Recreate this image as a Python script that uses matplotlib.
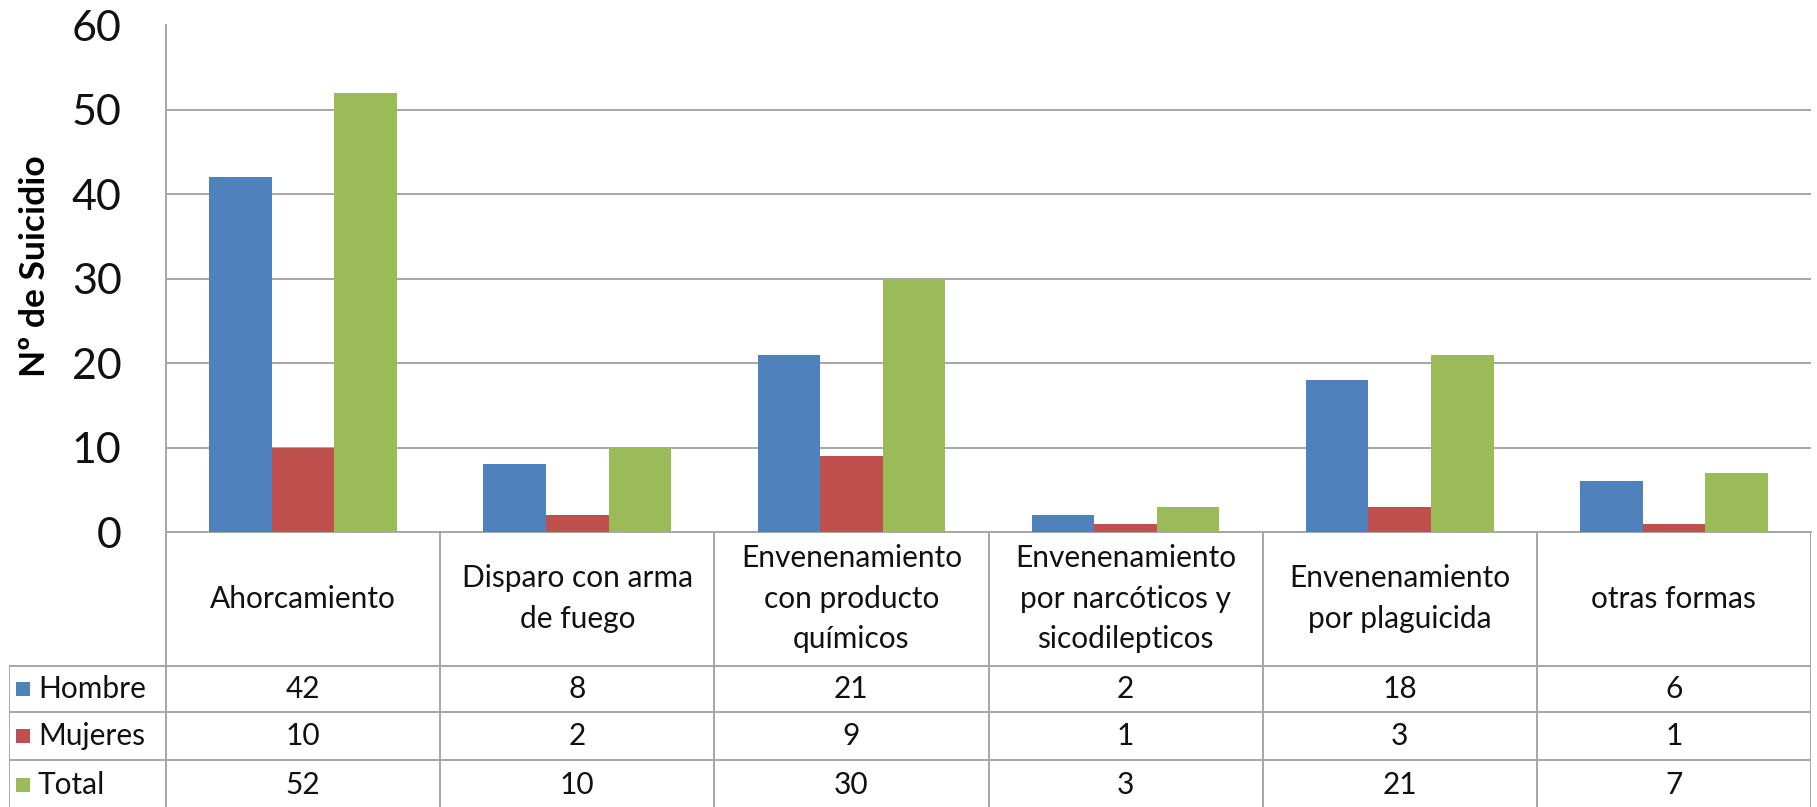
import matplotlib
matplotlib.use("Agg")
import matplotlib.pyplot as plt
import numpy as np

categories = [
    "Ahorcamiento",
    "Disparo con arma\nde fuego",
    "Envenenamiento\ncon producto\nquímicos",
    "Envenenamiento\npor narcóticos y\nsicodilepticos",
    "Envenenamiento\npor plaguicida",
    "otras formas",
]
series_names = ["Hombre", "Mujeres", "Total"]
hombre = [42, 8, 21, 2, 18, 6]
mujeres = [10, 2, 9, 1, 3, 1]
total = [52, 10, 30, 3, 21, 7]
y_ticks = [0, 10, 20, 30, 40, 50, 60]

colors = ["#4F81BD", "#C0504D", "#9BBB59"]
line_gray = "#a6a6a6"

plt.rcParams["font.family"] = ["Lato", "DejaVu Sans"]

W, H = 1817, 807


def px_rect(left, top, right, bottom):
    return [left / W, 1 - bottom / H, (right - left) / W, (bottom - top) / H]


fig = plt.figure(figsize=(W / 100, H / 100), dpi=100)
fig.patch.set_facecolor("white")

# chart area
plot_l, plot_t, plot_r, plot_b = 166, 25.5, 1811, 532
ax = fig.add_axes(px_rect(plot_l, plot_t, plot_r, plot_b))
x = np.arange(len(categories))
bw = 0.228
for i, (vals, color) in enumerate(zip([hombre, mujeres, total], colors)):
    ax.bar(x + (i - 1) * bw, vals, bw, color=color, zorder=3)

ax.set_xlim(-0.5, len(categories) - 0.5)
ax.set_ylim(0, 60)
ax.set_yticks(y_ticks)
ax.set_xticks([])
ax.yaxis.grid(True, color=line_gray, linewidth=1.4)
ax.set_axisbelow(True)
for side in ["top", "right"]:
    ax.spines[side].set_visible(False)
for side in ["left", "bottom"]:
    ax.spines[side].set_color(line_gray)
    ax.spines[side].set_linewidth(1.4)
ax.tick_params(axis="y", length=0, pad=32, labelsize=31, labelcolor="#111111")

fig.text(35 / W, 1 - 266 / H, "Nº de Suicidio", rotation=90, fontsize=25.5,
         fontweight="bold", ha="center", va="center")

# data table below the chart
col_w = (plot_r - plot_l) / len(categories)
tab_left_px = 9
x_left = -0.5 - (plot_l - tab_left_px) / col_w
tax = fig.add_axes(px_rect(tab_left_px, plot_b, plot_r, H))
tax.set_xlim(x_left, len(categories) - 0.5)
tax.set_ylim(H, plot_b)
tax.axis("off")

row_edges = [665.5, 712, 760, H + 2]
line_kw = dict(color=line_gray, linewidth=1.4, solid_capstyle="butt")

for k in range(len(categories) + 1):
    tax.plot([k - 0.5, k - 0.5], [plot_b, H], **line_kw)
tax.plot([x_left, x_left], [row_edges[0], H], **line_kw)
for y in row_edges[:-1]:
    tax.plot([x_left, len(categories) - 0.5], [y, y], **line_kw)

fs = 21.5
header_mid = (plot_b + row_edges[0]) / 2
for i, cat in enumerate(categories):
    tax.text(i, header_mid, cat, ha="center", va="center", fontsize=fs,
             linespacing=1.55, color="#111111")

sq_x = x_left + (22.5 - tab_left_px) / col_w
lbl_x = x_left + (38 - tab_left_px) / col_w
for r, (name, vals, color) in enumerate(zip(series_names, [hombre, mujeres, total], colors)):
    y_mid = (row_edges[r] + row_edges[r + 1]) / 2
    tax.plot([sq_x], [y_mid], marker="s", markersize=9.5, color=color,
             markeredgewidth=0)
    tax.text(lbl_x, y_mid, name, ha="left", va="center", fontsize=fs,
             color="#111111")
    for i, v in enumerate(vals):
        tax.text(i, y_mid, str(v), ha="center", va="center", fontsize=fs,
                 color="#111111")

fig.savefig("out.png", dpi=100)
